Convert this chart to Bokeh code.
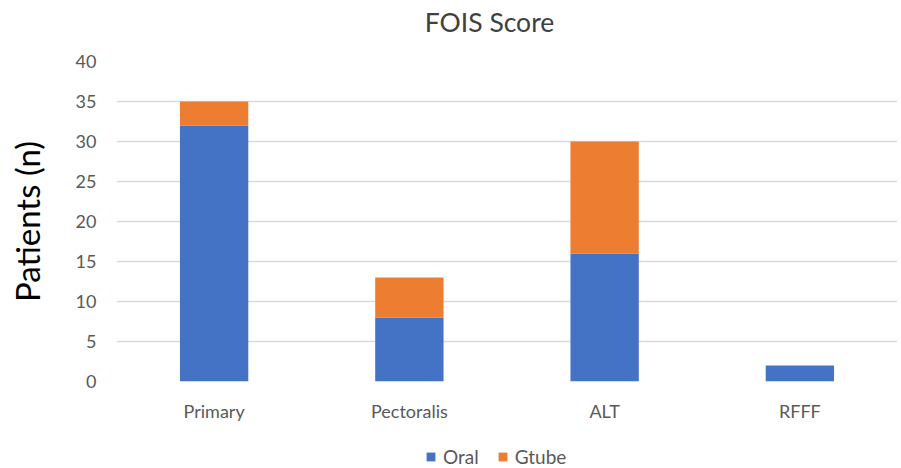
from bokeh.plotting import figure
from bokeh.layouts import column
from bokeh.models import FactorRange, Range1d, FixedTicker, Legend, LegendItem, ColumnDataSource, Label
from bokeh.embed import file_html
from bokeh.resources import INLINE

categories = ["Primary", "Pectoralis", "ALT", "RFFF"]
oral = [32, 8, 16, 2]
gtube = [3, 5, 14, 0]
series = ["Oral", "Gtube"]
colors = ["#4472C4", "#ED7D31"]
y_ticks = [0, 5, 10, 15, 20, 25, 30, 35, 40]
title_text = "FOIS Score"
y_label = "Patients (n)"

FONT = "Lato"
W = 897

src = ColumnDataSource(dict(cat=categories, Oral=oral, Gtube=gtube))


def bare(fig):
    fig.axis.visible = False
    fig.grid.visible = False
    fig.outline_line_color = None
    return fig


# ---- title strip ----
pt = bare(figure(width=W, height=40, output_backend="svg", toolbar_location=None,
                 min_border=0, min_border_left=0, min_border_right=0,
                 min_border_top=0, min_border_bottom=0))
pt.add_layout(Label(x=373, y=19, x_units="screen", y_units="screen", text=title_text,
                    text_font=FONT, text_font_size="26.5px", text_color="#404040",
                    text_align="center", text_baseline="middle"))

# ---- main chart ----
p = figure(frame_width=781, frame_height=320, output_backend="svg", toolbar_location=None,
           x_range=FactorRange(*categories, range_padding=0), y_range=Range1d(0, 40),
           min_border_left=116, min_border_right=0, min_border_top=21, min_border_bottom=45)

renderers = p.vbar_stack(series, x="cat", width=0.35, color=colors, source=src, line_color=None)

p.yaxis.ticker = FixedTicker(ticks=y_ticks)
p.yaxis.axis_label = y_label
p.yaxis.axis_label_text_font = FONT
p.yaxis.axis_label_text_font_size = "33px"
p.yaxis.axis_label_text_font_style = "normal"
p.yaxis.axis_label_text_color = "#000000"
p.yaxis.axis_label_standoff = 26
for ax in (p.xaxis[0], p.yaxis[0]):
    ax.axis_line_color = None
    ax.major_tick_line_color = None
    ax.minor_tick_line_color = None
    ax.major_tick_out = 0
    ax.major_tick_in = 0
    ax.minor_tick_out = 0
    ax.minor_tick_in = 0
    ax.major_label_text_font = FONT
    ax.major_label_text_font_size = "18px"
    ax.major_label_text_color = "#595959"
p.yaxis.major_label_standoff = 20
p.xaxis.major_label_standoff = 18

p.xgrid.grid_line_color = None
p.ygrid.grid_line_color = "#D9D9D9"
p.ygrid.grid_line_width = 1.5
p.outline_line_color = None

# ---- legend strip (bars here fall outside the visible range; only the legend shows) ----
pl = bare(figure(width=W, height=42, output_backend="svg", toolbar_location=None,
                 x_range=FactorRange(*categories), y_range=Range1d(1000, 1001),
                 min_border=0, min_border_left=0, min_border_right=0,
                 min_border_top=0, min_border_bottom=0))
leg_r = pl.vbar_stack(series, x="cat", width=0.35, color=colors, source=src, line_color=None)
legend = Legend(items=[LegendItem(label=s, renderers=[r]) for s, r in zip(series, leg_r)],
                orientation="horizontal", location=(309, 0),
                label_text_font=FONT, label_text_font_size="19px", label_text_color="#595959",
                label_height=22, glyph_width=11, glyph_height=11, spacing=18, label_standoff=7,
                border_line_color=None, background_fill_alpha=0, padding=0, margin=0)
pl.add_layout(legend)

layout = column(pt, p, pl, spacing=0)
open("out.html", "w").write(file_html(layout, INLINE))
